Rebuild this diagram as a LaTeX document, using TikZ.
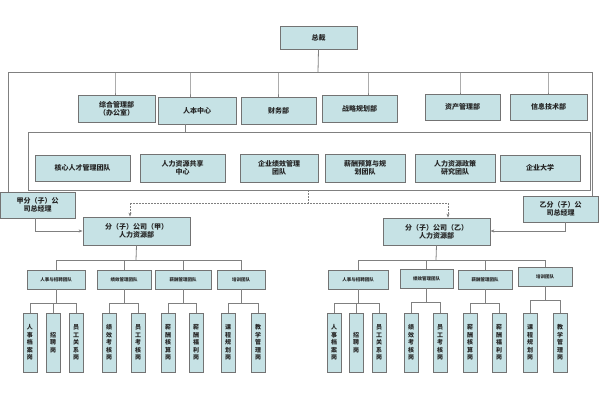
\documentclass[tikz,border=0pt]{standalone}
\usepackage{fontspec}
\newfontfamily\cjk{Noto Sans CJK SC}
\usetikzlibrary{arrows.meta}
\definecolor{boxc}{HTML}{C6E2E5}
\tikzset{bx/.style={draw=black!55,line width=0.8pt,fill=boxc,font=\cjk\bfseries,align=center,inner sep=0pt,text=black!85},
ln/.style={draw=black!50,line width=0.8pt},
dl/.style={draw=black!50,line width=0.8pt,dash pattern=on 1.5pt off 1.5pt}}
\newcommand\bx[7][\fontsize{7}{8}\selectfont]{\node[bx,font=\cjk\bfseries#1,minimum width=#4-#2,minimum height=#5-#3] (#6) at ({(#2+#4)/2},{(#3+#5)/2}) {#7};}
\begin{document}
\begin{tikzpicture}[x=1pt,y=-1pt]
\useasboundingbox (0,0) rectangle (600,400);
\bx{280}{26}{357}{49}{zc}{总裁}
\bx{78}{95}{155}{122}{d1}{综合管理部\\（办公室）}
\bx{158}{97}{236}{124}{d2}{人本中心}
\bx{241}{97}{316}{124}{d3}{财务部}
\bx{322}{95}{397}{122}{d4}{战略规划部}
\bx{425}{94}{500}{120}{d5}{资产管理部}
\bx{510}{94}{587}{120}{d6}{信息技术部}
\draw[ln] (zc.south) -- (318,72) coordinate (b0);
\draw[ln] (8,197) -- (8,72) -- (592,72) -- (592,197);
\foreach \n/\x in {d1/115,d2/190,d3/278,d4/368,d5/460,d6/548}{\draw[ln] (\x,72) -- (\x,92) -- (\n.north -| \x,0);}
\draw[ln] (28,132) rectangle (590,190);
\draw[ln] (185,124) -- (185,132);
\bx{35}{155}{130}{181}{t1}{核心人才管理团队}
\bx{140}{154}{225}{182}{t2}{人力资源共享\\中心}
\bx{240}{154}{318}{182}{t3}{企业绩效管理\\团队}
\bx{325}{154}{405}{182}{t4}{薪酬预算与规\\划团队}
\bx{415}{154}{495}{182}{t5}{人力资源政策\\研究团队}
\bx{500}{155}{580}{181}{t6}{企业大学}
\bx{0}{192}{75}{218}{ga}{甲分（子）公\\司总经理}
\bx{523}{196}{598}{222}{gb}{乙分（子）公\\司总经理}
\bx{83}{217}{190}{245}{ha}{分（子）公司（甲）\\人力资源部}
\bx{383}{218}{490}{245}{hb}{分（子）公司（乙）\\人力资源部}
\draw[dl] (308,190) -- (308,203);
\draw[dl,-{Stealth[length=4pt]}] (130,203) -- (448,203) (130,203) -- (ha.north -| 130,0);
\draw[dl,-{Stealth[length=4pt]}] (448,203) -- (hb.north -| 448,0);
\draw[ln,-{Stealth[length=4pt]}] (35,218) -- (35,231) -- (ha.west |- 0,231);
\draw[ln,-{Stealth[length=4pt]}] (565,222) -- (565,231) -- (hb.east |- 0,231);
% subtrees
\foreach \s/\cx/\xa/\xb/\xc/\xd/\xe/\xf/\xg/\xh/\xi in {a/136/23/46/69/102/131/161/189/221/251, b/436/327/349/372/404/433/463/492/523/553}{
  \if\s a
    \bx[\fontsize{4.5}{5}\selectfont]{27}{270}{85}{289}{s\s1}{人事与招聘团队}
    \bx[\fontsize{4.5}{5}\selectfont]{97}{270}{151}{289}{s\s2}{绩效管理团队}
    \bx[\fontsize{4.5}{5}\selectfont]{155}{270}{211}{289}{s\s3}{薪酬管理团队}
    \bx[\fontsize{4.5}{5}\selectfont]{217}{270}{265}{289}{s\s4}{培训团队}
  \else
    \bx[\fontsize{4.5}{5}\selectfont]{328}{270}{388}{289}{s\s1}{人事与招聘团队}
    \bx[\fontsize{4.5}{5}\selectfont]{400}{269}{453}{288}{s\s2}{绩效管理团队}
    \bx[\fontsize{4.5}{5}\selectfont]{458}{270}{512}{289}{s\s3}{薪酬管理团队}
    \bx[\fontsize{4.5}{5}\selectfont]{518}{267}{572}{286}{s\s4}{培训团队}
  \fi
  \draw[ln] (h\s.south) -- (\cx,260);
  \draw[ln] (s\s1.north |- 0,260) -- (s\s4.north |- 0,260);
  \foreach \k in {1,2,3,4}{\draw[ln] (s\s\k.north |- 0,260) -- (s\s\k.north);}
  \bx[\fontsize{6}{7.5}\selectfont]{\xa}{313}{\xa+14}{372}{l\s1}{人\\事\\档\\案\\岗}
  \bx[\fontsize{6}{7.5}\selectfont]{\xb}{313}{\xb+14}{372}{l\s2}{招\\聘\\岗}
  \bx[\fontsize{6}{7.5}\selectfont]{\xc}{313}{\xc+14}{372}{l\s3}{员\\工\\关\\系\\岗}
  \bx[\fontsize{6}{7.5}\selectfont]{\xd}{313}{\xd+14}{372}{l\s4}{绩\\效\\考\\核\\岗}
  \bx[\fontsize{6}{7.5}\selectfont]{\xe}{313}{\xe+14}{372}{l\s5}{员\\工\\考\\核\\岗}
  \bx[\fontsize{6}{7.5}\selectfont]{\xf}{313}{\xf+14}{372}{l\s6}{薪\\酬\\核\\算\\岗}
  \bx[\fontsize{6}{7.5}\selectfont]{\xg}{313}{\xg+14}{372}{l\s7}{薪\\酬\\福\\利\\岗}
  \bx[\fontsize{6}{7.5}\selectfont]{\xh}{313}{\xh+14}{372}{l\s8}{课\\程\\规\\划\\岗}
  \bx[\fontsize{6}{7.5}\selectfont]{\xi}{313}{\xi+14}{372}{l\s9}{教\\学\\管\\理\\岗}
  \draw[ln] (s\s1.south) -- +(0,14) coordinate (m1);
  \draw[ln] (l\s1.north |- m1) -- (l\s3.north |- m1);
  \foreach \k in {1,2,3}{\draw[ln] (l\s\k.north |- m1) -- (l\s\k.north);}
  \draw[ln] (s\s2.south) -- +(0,14) coordinate (m2);
  \draw[ln] (l\s4.north |- m2) -- (l\s5.north |- m2);
  \foreach \k in {4,5}{\draw[ln] (l\s\k.north |- m2) -- (l\s\k.north);}
  \draw[ln] (s\s3.south) -- +(0,14) coordinate (m3);
  \draw[ln] (l\s6.north |- m3) -- (l\s7.north |- m3);
  \foreach \k in {6,7}{\draw[ln] (l\s\k.north |- m3) -- (l\s\k.north);}
  \draw[ln] (s\s4.south) -- +(0,14) coordinate (m4);
  \draw[ln] (l\s8.north |- m4) -- (l\s9.north |- m4);
  \foreach \k in {8,9}{\draw[ln] (l\s\k.north |- m4) -- (l\s\k.north);}
}
\end{tikzpicture}
\end{document}
